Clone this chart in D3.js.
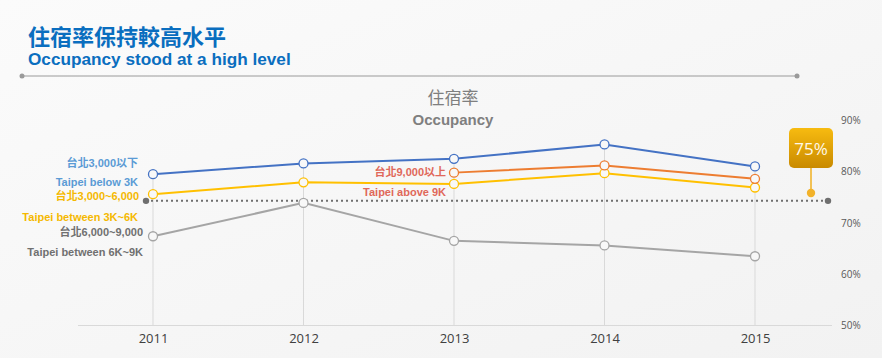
<!DOCTYPE html>
<html><head><meta charset="utf-8">
<script src="https://cdn.jsdelivr.net/npm/d3@7"></script>
<style>
html,body{margin:0;padding:0;background:#f5f5f5;}
svg{display:block;}
</style></head>
<body>
<svg id="chart" width="882" height="358"></svg>
<script>
const years = ["2011","2012","2013","2014","2015"];
const below3K = [79.5, 81.6, 82.5, 85.3, 81.0];
const between3K6K = [75.6, 77.9, 77.6, 79.7, 76.9];
const between6K9K = [67.4, 73.9, 66.5, 65.6, 63.5];
const above9K = [null, null, 79.8, 81.2, 78.6];
const refValue = 74.3;
const refLabel = "75%";
const yTicks = [50, 60, 70, 80, 90];

const series = [
  {name:"between6K9K", values: between6K9K, color:"#A5A5A5"},
  {name:"between3K6K", values: between3K6K, color:"#FFC000"},
  {name:"above9K", values: above9K, color:"#ED7D31"},
  {name:"below3K", values: below3K, color:"#4472C4"}
];

const svg = d3.select("#chart");
const defs = svg.append("defs");
const bg = defs.append("linearGradient").attr("id","bg").attr("x1","0").attr("y1","0").attr("x2","1").attr("y2","1");
bg.append("stop").attr("offset","0").attr("stop-color","#fbfbfb");
bg.append("stop").attr("offset","1").attr("stop-color","#f2f2f2");
svg.append("rect").attr("width",882).attr("height",358).attr("fill","url(#bg)");

const gold = defs.append("linearGradient").attr("id","gold").attr("x1","0").attr("y1","0").attr("x2","0").attr("y2","1");
gold.append("stop").attr("offset","0").attr("stop-color","#F7BB10");
gold.append("stop").attr("offset","1").attr("stop-color","#C98A00");

// Header
svg.append("text").attr("x",28).attr("y",45)
  .attr("font-family","'Noto Sans CJK TC','Noto Sans CJK SC',sans-serif").attr("font-weight","bold")
  .attr("font-size",22).attr("fill","#0A6EBF").text("住宿率保持較高水平");
svg.append("text").attr("x",28).attr("y",65)
  .attr("font-family","'Liberation Sans',Arial,sans-serif").attr("font-weight","bold")
  .attr("font-size",17.2).attr("fill","#0A6EBF").text("Occupancy stood at a high level");
svg.append("line").attr("x1",22).attr("x2",797).attr("y1",76).attr("y2",76).attr("stroke","#9a9a9a").attr("stroke-width",1);
svg.append("circle").attr("cx",22).attr("cy",76).attr("r",2.5).attr("fill","#9a9a9a");
svg.append("circle").attr("cx",797).attr("cy",76).attr("r",2.5).attr("fill","#9a9a9a");

// Chart title
svg.append("text").attr("x",453).attr("y",104).attr("text-anchor","middle")
  .attr("font-family","'Noto Sans CJK TC',serif").attr("font-size",17).attr("fill","#7f7f7f").text("住宿率");
svg.append("text").attr("x",453).attr("y",125).attr("text-anchor","middle")
  .attr("font-family","'Liberation Sans',Arial,sans-serif").attr("font-weight","bold")
  .attr("font-size",15).attr("fill","#7f7f7f").text("Occupancy");

const x = d3.scalePoint().domain(years).range([153,755]);
const y = d3.scaleLinear().domain([50,90]).range([325.5,120.3]);

// Baseline
svg.append("line").attr("x1",78).attr("x2",832).attr("y1",y(50)).attr("y2",y(50)).attr("stroke","#d9d9d9").attr("stroke-width",1);

// drop lines from top point to baseline
years.forEach((yr,i)=>{
  const top = d3.max(series, s=>s.values[i]);
  svg.append("line").attr("x1",x(yr)).attr("x2",x(yr)).attr("y1",y(top)).attr("y2",y(50))
    .attr("stroke","#d9d9d9").attr("stroke-width",1);
});

// Y axis (right)
const yAxis = d3.axisRight(y).tickValues(yTicks).tickFormat(d=>d+"%").tickSize(0).tickPadding(0);
const gy = svg.append("g").attr("transform","translate(841,0)").call(yAxis);
gy.select(".domain").remove();
gy.selectAll("text").attr("font-family","'Open Sans',sans-serif").attr("font-size",10).attr("fill","#595959");

// X axis
const xAxis = d3.axisBottom(x).tickSize(0).tickPadding(0);
const gx = svg.append("g").attr("transform","translate(0,334)").call(xAxis);
gx.select(".domain").remove();
gx.selectAll("text").attr("font-family","'Open Sans',sans-serif").attr("font-size",13).attr("fill","#404040");

// Reference dotted line
svg.append("line").attr("x1",146).attr("x2",828).attr("y1",y(refValue)).attr("y2",y(refValue))
  .attr("stroke","#6f6f6f").attr("stroke-width",2).attr("stroke-dasharray","2,3");
svg.append("circle").attr("cx",146).attr("cy",y(refValue)).attr("r",3.2).attr("fill","#6f6f6f");
svg.append("circle").attr("cx",828).attr("cy",y(refValue)).attr("r",3.2).attr("fill","#6f6f6f");

// Series lines
const line = d3.line().defined(d=>d.v!=null).x(d=>x(d.yr)).y(d=>y(d.v));
series.forEach(s=>{
  const pts = years.map((yr,i)=>({yr, v:s.values[i]}));
  svg.append("path").datum(pts).attr("d",line).attr("fill","none").attr("stroke",s.color).attr("stroke-width",2);
  svg.selectAll(null).data(pts.filter(p=>p.v!=null)).enter().append("circle")
    .attr("cx",p=>x(p.yr)).attr("cy",p=>y(p.v)).attr("r",4.5)
    .attr("fill","#f8f8f8").attr("stroke",s.color).attr("stroke-width",1.3);
});

// Labels
const labels = [
  {t:"台北3,000以下", x:138, y:167, c:"#5B9BD5"},
  {t:"Taipei below 3K", x:138, y:186, c:"#5B9BD5"},
  {t:"台北3,000~6,000", x:139, y:200, c:"#F5B800"},
  {t:"Taipei between 3K~6K", x:138, y:221, c:"#F5B800"},
  {t:"台北6,000~9,000", x:143, y:236, c:"#707070"},
  {t:"Taipei between 6K~9K", x:143, y:256, c:"#707070"},
  {t:"台北9,000以上", x:446, y:176, c:"#E0685A"},
  {t:"Taipei above 9K", x:446, y:196, c:"#E0685A"}
];
svg.selectAll(null).data(labels).enter().append("text")
  .attr("x",d=>d.x).attr("y",d=>d.y).attr("text-anchor","end")
  .attr("font-family","'Liberation Sans','Noto Sans CJK TC',Arial,sans-serif").attr("font-weight","bold")
  .attr("font-size",11).attr("fill",d=>d.c).text(d=>d.t);

// Callout
svg.append("line").attr("x1",811).attr("x2",811).attr("y1",168).attr("y2",193).attr("stroke","#F0B020").attr("stroke-width",1.5);
svg.append("circle").attr("cx",811).attr("cy",193).attr("r",4.2).attr("fill","#F2B22A");
svg.append("rect").attr("x",789).attr("y",128).attr("width",44).attr("height",40).attr("rx",5)
  .attr("fill","url(#gold)");
svg.append("text").attr("x",811).attr("y",155).attr("text-anchor","middle")
  .attr("font-family","'Open Sans',sans-serif").attr("font-size",17).attr("fill","#fff8e8").text(refLabel);
</script>
</body></html>
